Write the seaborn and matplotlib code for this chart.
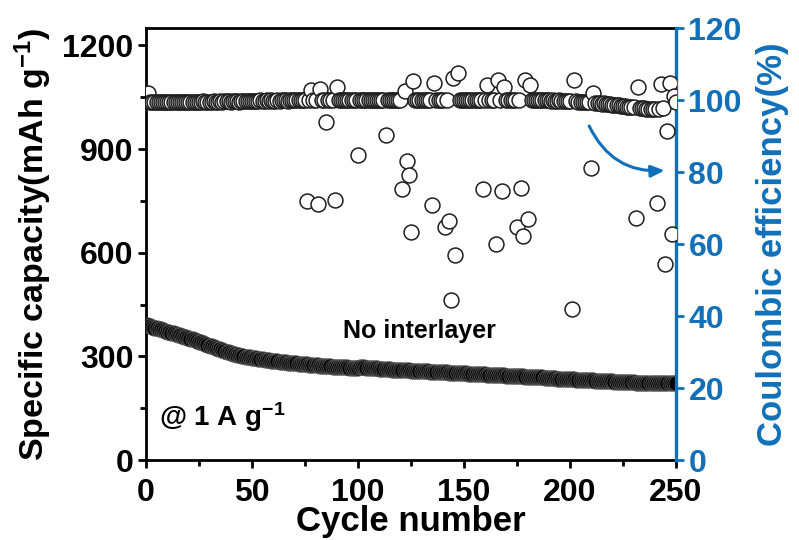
import numpy as np
import pandas as pd
import matplotlib
matplotlib.use("Agg")
import matplotlib.pyplot as plt
from matplotlib.ticker import MultipleLocator
import seaborn as sns

# ---------------- data ----------------
cycles = list(range(1, 251))

capacity = [
    392, 388, 385, 383, 381, 379, 378, 376, 374, 372,
    370, 368, 367, 365, 363, 361, 359, 357, 355, 353,
    351, 349, 347, 345, 343, 341, 338, 336, 334, 331,
    329, 327, 324, 322, 320, 318, 316, 314, 312, 310,
    308, 306, 305, 303, 302, 300, 299, 298, 297, 296,
    295, 294, 293, 292, 292, 291, 290, 289, 288, 287,
    287, 286, 285, 285, 284, 283, 282, 282, 281, 280,
    280, 279, 278, 278, 277, 277, 276, 275, 275, 274,
    274, 273, 273, 272, 272, 271, 271, 270, 270, 270,
    269, 269, 268, 268, 268, 267, 267, 267, 266, 266,
    268, 269, 268, 267, 266, 266, 265, 265, 265, 264,
    264, 264, 263, 263, 263, 262, 262, 262, 261, 261,
    261, 260, 260, 260, 259, 259, 259, 258, 258, 258,
    257, 257, 257, 256, 256, 256, 255, 255, 255, 254,
    254, 254, 253, 253, 253, 252, 252, 252, 251, 251,
    251, 250, 250, 250, 249, 249, 249, 248, 248, 248,
    247, 247, 247, 246, 246, 246, 245, 245, 245, 244,
    244, 244, 243, 243, 243, 242, 242, 242, 241, 241,
    241, 240, 240, 240, 239, 239, 239, 238, 238, 238,
    237, 237, 237, 236, 236, 236, 235, 235, 235, 234,
    234, 234, 233, 233, 233, 232, 232, 232, 231, 231,
    231, 230, 230, 230, 229, 229, 229, 228, 228, 228,
    227, 227, 227, 226, 226, 226, 225, 225, 225, 225,
    224, 224, 224, 224, 223, 223, 223, 223, 223, 222,
    222, 222, 222, 222, 222, 222, 222, 222, 222, 222,
]

ce_base = [
    99.6, 99.4, 99.5, 99.5, 99.4, 99.5, 99.5, 99.4, 99.5, 99.5,
    99.4, 99.5, 99.5, 99.6, 99.5, 99.4, 99.5, 99.6, 99.5, 99.5,
    99.6, 99.5, 99.6, 99.6, 99.5, 99.6, 99.7, 99.6, 99.6, 99.5,
    99.6, 99.7, 99.6, 99.6, 99.7, 99.6, 99.7, 99.8, 99.7, 99.6,
    99.7, 99.8, 99.7, 99.6, 99.7, 99.8, 99.7, 99.7, 99.8, 99.7,
    99.8, 99.7, 99.8, 99.9, 99.8, 99.7, 99.9, 99.8, 99.9, 99.8,
    99.8, 99.9, 99.8, 99.9, 100.0, 99.9, 99.8, 99.9, 100.0, 99.9,
    99.9, 100.0, 99.9, 100.0, 99.9, 99.9, 100.1, 99.9, 100.0, 99.9,
    100.0, 99.8, 100.1, 99.9, 100.0, 99.9, 100.0, 100.1, 99.9, 100.0,
    100.0, 99.9, 100.1, 100.0, 99.9, 100.0, 100.1, 99.9, 100.0, 100.0,
    100.1, 99.9, 100.0, 100.1, 100.0, 99.9, 100.0, 100.1, 100.0, 99.9,
    100.0, 100.1, 99.9, 100.0, 100.0, 99.9, 100.1, 100.0, 99.9, 100.0,
    100.0, 100.1, 99.9, 100.0, 100.1, 100.0, 99.9, 100.0, 100.1, 100.0,
    99.9, 100.0, 100.1, 100.0, 99.9, 100.0, 100.0, 100.1, 99.9, 100.0,
    100.0, 99.9, 100.1, 100.0, 99.9, 100.0, 100.1, 100.0, 99.9, 100.0,
    100.1, 100.0, 99.9, 100.0, 100.0, 100.1, 99.9, 100.0, 100.0, 99.9,
    100.0, 100.1, 100.0, 99.9, 100.0, 100.0, 100.1, 99.9, 100.0, 100.0,
    99.9, 100.0, 100.1, 100.0, 99.9, 100.0, 100.0, 99.9, 100.0, 100.1,
    100.0, 99.9, 100.0, 100.0, 99.9, 100.0, 99.9, 100.0, 99.9, 99.9,
    99.8, 99.9, 99.8, 99.8, 99.9, 99.8, 99.7, 99.8, 99.7, 99.7,
    99.7, 99.6, 99.7, 99.6, 99.5, 99.6, 99.5, 99.4, 99.5, 99.4,
    99.3, 99.2, 99.3, 99.1, 99.0, 99.1, 98.9, 98.8, 98.9, 98.7,
    98.6, 98.5, 98.6, 98.4, 98.3, 98.4, 98.2, 98.1, 98.2, 98.0,
    97.9, 98.0, 97.8, 97.7, 97.8, 97.6, 97.5, 97.6, 97.5, 97.6,
    97.5, 97.6, 97.7, 97.8, 98.0, 98.3, 98.6, 98.9, 99.2, 99.5,
]

ce_out_cycles = [1, 76, 78, 81, 82, 85, 89, 90, 100, 113, 121, 122, 123, 124,
                 125, 126, 135, 136, 141, 143, 144, 145, 146, 147, 159, 161,
                 165, 166, 168, 169, 175, 177, 178, 179, 180, 181, 201, 202,
                 210, 211, 231, 232, 241, 243, 245, 246, 247, 248, 249]
ce_out_values = [102.0, 72.0, 102.7, 71.0, 103.2, 94.0, 72.2, 103.7, 84.8,
                 90.2, 75.3, 102.6, 83.1, 79.3, 63.4, 105.2, 70.8, 104.8,
                 64.8, 66.5, 44.6, 106.0, 56.9, 107.6, 75.3, 104.1, 60.0,
                 105.5, 74.7, 103.6, 64.7, 75.5, 62.2, 105.5, 67.0, 104.1,
                 41.9, 105.7, 81.2, 102.0, 67.3, 103.5, 71.5, 104.6, 54.5,
                 91.3, 104.7, 62.9, 101.0]

x_ticks = [0, 50, 100, 150, 200, 250]
cap_ticks = [0, 300, 600, 900, 1200]
ce_ticks = [0, 20, 40, 60, 80, 100, 120]

# ---------------- build tables ----------------
ce = list(ce_base)
for c, v in zip(ce_out_cycles, ce_out_values):
    ce[c - 1] = v
df = pd.DataFrame({"cycle": cycles, "capacity": capacity, "ce": ce})

# ---------------- style ----------------
sns.set_style("ticks")
plt.rcParams["font.family"] = ["Liberation Sans", "DejaVu Sans"]
plt.rcParams["font.weight"] = "bold"
plt.rcParams["axes.labelweight"] = "bold"
plt.rcParams["text.color"] = "black"
plt.rcParams["axes.labelcolor"] = "black"
plt.rcParams["xtick.color"] = "black"
plt.rcParams["ytick.color"] = "black"
plt.rcParams["mathtext.fontset"] = "custom"
plt.rcParams["mathtext.rm"] = "Liberation Sans:bold"
plt.rcParams["mathtext.bf"] = "Liberation Sans:bold"
plt.rcParams["mathtext.it"] = "Liberation Sans:bold"
plt.rcParams["mathtext.default"] = "bf"

BLUE = "#1170b8"

fig = plt.figure(figsize=(7.99, 5.40), dpi=100)
ax = fig.add_axes([0.1827, 0.148, 0.846 - 0.1827, 0.948 - 0.148])
ax2 = ax.twinx()

sns.scatterplot(data=df, x="cycle", y="capacity", ax=ax, marker="o", s=120,
                color="black", edgecolor="#5c5c5c", linewidth=0.6, zorder=3,
                legend=False)
sns.scatterplot(data=df, x="cycle", y="ce", ax=ax2, marker="o", s=115,
                color="white", edgecolor="#1e1e1e", linewidth=1.1, zorder=3,
                legend=False)

ax.set_xlim(0, 250)
ax.set_ylim(0, 1250)
ax2.set_ylim(0, 120)

ax.set_xticks(x_ticks)
ax.set_yticks(cap_ticks)
ax.xaxis.set_minor_locator(MultipleLocator(25))
ax.yaxis.set_minor_locator(MultipleLocator(150))
ax2.set_yticks(ce_ticks)

ax.set_xlabel("Cycle number", fontsize=25, fontweight="bold", labelpad=-2,
              color="black")
ax.set_ylabel("Specific capacity(mAh g$^{-1}$)", fontsize=24.5,
              fontweight="bold", labelpad=6, color="black")
ax2.set_ylabel("Coulombic efficiency(%)", fontsize=25, fontweight="bold",
               color=BLUE, labelpad=10)

for s in ["left", "bottom", "top", "right"]:
    ax.spines[s].set_linewidth(2.0)
    ax.spines[s].set_color("black")
for s in ["left", "bottom", "top"]:
    ax2.spines[s].set_visible(False)
ax2.spines["right"].set_color(BLUE)
ax2.spines["right"].set_linewidth(2.4)

ax.tick_params(axis="both", which="major", direction="out", length=6,
               width=2, labelsize=23, colors="black")
ax.tick_params(axis="y", which="major", pad=3)
ax.tick_params(axis="x", which="major", pad=7)
ax.tick_params(axis="both", which="minor", direction="out", length=4,
               width=2, colors="black")
ax.tick_params(axis="x", which="both", top=False)
ax.tick_params(axis="y", which="both", right=False)
ax2.tick_params(axis="y", which="major", direction="out", length=6, width=2,
                labelsize=23, colors=BLUE, pad=3)
for lab in ax.get_xticklabels() + ax.get_yticklabels() + ax2.get_yticklabels():
    lab.set_fontweight("bold")

ax.text(129, 373, "No interlayer", fontsize=18, fontweight="bold",
        ha="center", va="center", color="black")
ax.text(6, 124, "@ 1 A g$^{-1}$", fontsize=20, fontweight="bold",
        ha="left", va="center", color="black")

ax2.annotate("", xy=(246, 80.5), xytext=(208.5, 93.5),
             arrowprops=dict(arrowstyle="-|>,head_length=0.8,head_width=0.35",
                             color=BLUE, lw=2.2,
                             connectionstyle="arc3,rad=0.35"))

fig.savefig("out.png", dpi=100)
